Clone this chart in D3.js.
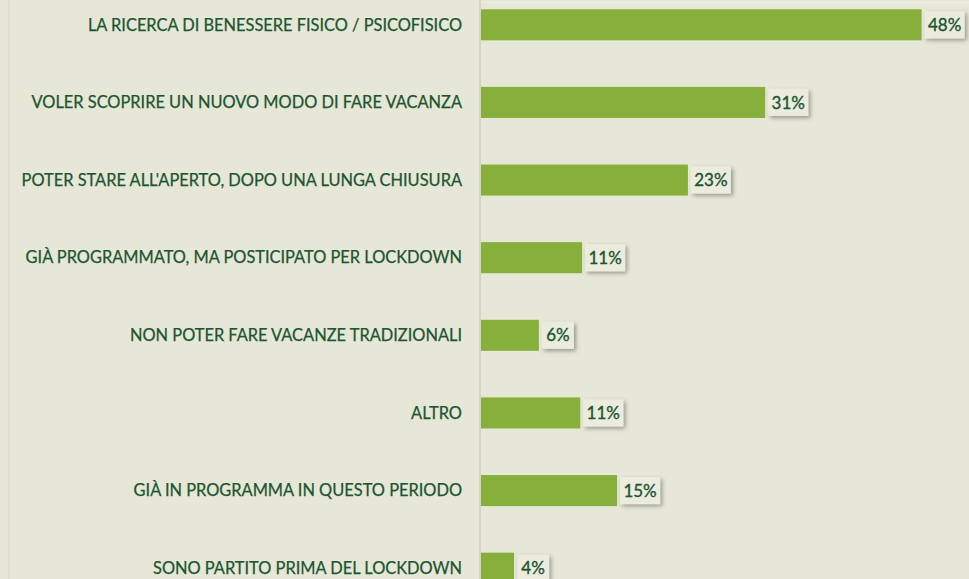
<!DOCTYPE html>
<html><head><meta charset="utf-8">
<script src="https://cdn.jsdelivr.net/npm/d3@7"></script>
<style>html,body{margin:0;padding:0;background:#e6e7d7;overflow:hidden}</style>
</head><body>
<svg id="c" width="969" height="579"></svg>
<script>
const categories = [
  "LA RICERCA DI BENESSERE FISICO / PSICOFISICO",
  "VOLER SCOPRIRE UN NUOVO MODO DI FARE VACANZA",
  "POTER STARE ALL'APERTO, DOPO UNA LUNGA CHIUSURA",
  "GIÀ PROGRAMMATO, MA POSTICIPATO PER LOCKDOWN",
  "NON POTER FARE VACANZE TRADIZIONALI",
  "ALTRO",
  "GIÀ IN PROGRAMMA IN QUESTO PERIODO",
  "SONO PARTITO PRIMA DEL LOCKDOWN"
];
const values = [48.0, 31.0, 22.6, 11.1, 6.4, 10.9, 14.9, 3.7];
const valueLabels = ["48%", "31%", "23%", "11%", "6%", "11%", "15%", "4%"];

const svg = d3.select("#c");
const W = 969, H = 579;
const x0 = 480;
const x = d3.scaleLinear().domain([0, 50]).range([x0, x0 + 460]);
const y = d3.scaleBand().domain(categories).range([-14, 607]).paddingInner(0.6).paddingOuter(0.3);

const defs = svg.append("defs");
const f = defs.append("filter").attr("id","sh").attr("x","-30%").attr("y","-30%").attr("width","170%").attr("height","180%");
f.append("feDropShadow").attr("dx",2).attr("dy",2).attr("stdDeviation",2).attr("flood-color","#000").attr("flood-opacity",0.35);

svg.append("rect").attr("width",W).attr("height",H).attr("fill","#e6e7d7");
svg.append("line").attr("x1",9).attr("x2",9).attr("y1",0).attr("y2",H).attr("stroke","#d9dacb").attr("stroke-width",1);
svg.append("line").attr("x1",x0).attr("x2",W).attr("y1",2.5).attr("y2",2.5).attr("stroke","#eeefe3").attr("stroke-width",1);
svg.append("line").attr("x1",x0).attr("x2",x0).attr("y1",0).attr("y2",H).attr("stroke","#d3d4c6").attr("stroke-width",2);

const g = svg.append("g");
const rows = g.selectAll("g.row").data(categories).join("g").attr("class","row");

rows.append("rect")
  .attr("x", x(0) + 1)
  .attr("y", d => y(d))
  .attr("height", y.bandwidth())
  .attr("width", (d,i) => x(values[i]) - x(0) - 1)
  .attr("fill", "#86b03b");

rows.append("text")
  .attr("x", x0 - 18)
  .attr("y", d => y(d) + y.bandwidth()/2)
  .attr("dy", "0.35em")
  .attr("text-anchor","end")
  .attr("font-family","Lato, 'Open Sans', sans-serif")
  .attr("font-size", 16.4)
  .attr("fill", "#1c5530")
  .attr("stroke", "#1c5530").attr("stroke-width", 0.25)
  .text(d => d);

rows.each(function(d,i){
  const gg = d3.select(this);
  const t = valueLabels[i];
  const bw = t.length === 3 ? 40 : 32;
  const bx = x(values[i]) + 3;
  const by = y(d) + 2;
  gg.append("rect").attr("x", bx).attr("y", by).attr("width", bw).attr("height", y.bandwidth() - 4)
    .attr("fill","#ebebde").attr("filter","url(#sh)");
  gg.append("text").attr("x", bx + bw/2).attr("y", y(d) + y.bandwidth()/2).attr("dy","0.36em")
    .attr("text-anchor","middle")
    .attr("font-family","Lato, 'Open Sans', sans-serif")
    .attr("font-size", 17)
    .attr("fill","#1c5530").attr("stroke", "#1c5530").attr("stroke-width", 0.35)
    .text(t);
});
</script>
</body></html>
